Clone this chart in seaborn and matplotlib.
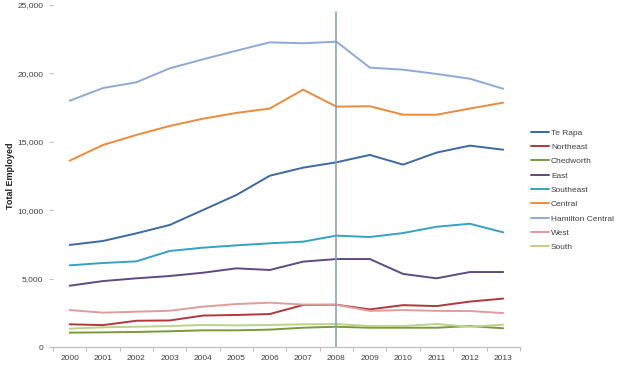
import matplotlib
matplotlib.use("Agg")
import matplotlib.pyplot as plt
import seaborn as sns
import pandas as pd
from matplotlib.ticker import FuncFormatter

years = ["2000", "2001", "2002", "2003", "2004", "2005", "2006",
         "2007", "2008", "2009", "2010", "2011", "2012", "2013"]

te_rapa = [7460, 7750, 8310, 8920, 10015, 11110, 12520, 13110, 13500, 14040, 13330, 14210, 14720, 14420]
northeast = [1660, 1600, 1920, 1940, 2300, 2340, 2410, 3070, 3090, 2750, 3060, 2990, 3320, 3540]
chedworth = [1050, 1070, 1100, 1150, 1220, 1220, 1270, 1410, 1480, 1410, 1410, 1410, 1530, 1370]
east = [4480, 4820, 5020, 5190, 5430, 5750, 5630, 6240, 6430, 6430, 5340, 5020, 5480, 5480]
southeast = [5970, 6140, 6260, 7020, 7260, 7430, 7580, 7700, 8140, 8040, 8330, 8790, 9010, 8380]
central = [13620, 14770, 15500, 16160, 16690, 17110, 17430, 18810, 17570, 17600, 16980, 16980, 17430, 17860]
hamilton_central = [18000, 18930, 19350, 20370, 21030, 21660, 22270, 22200, 22320, 20420, 20270, 19960, 19610, 18880]
west = [2700, 2510, 2580, 2650, 2950, 3140, 3240, 3100, 3090, 2640, 2700, 2640, 2630, 2480]
south = [1340, 1440, 1480, 1530, 1610, 1580, 1610, 1660, 1680, 1530, 1530, 1680, 1480, 1630]

series_names = ["Te Rapa", "Northeast", "Chedworth", "East", "Southeast",
                "Central", "Hamilton Central", "West", "South"]
series_values = [te_rapa, northeast, chedworth, east, southeast,
                 central, hamilton_central, west, south]
colors = ["#3C69A3", "#B0383A", "#7A9A3C", "#5E4A80", "#35A2C2",
          "#EE8A3A", "#8FA9D6", "#E09C9A", "#B9D38A"]

marker_year = "2008"
y_ticks = [0, 5000, 10000, 15000, 20000, 25000]

rows = []
for name, vals in zip(series_names, series_values):
    for i, (yr, v) in enumerate(zip(years, vals)):
        rows.append({"idx": i, "Year": yr, "Area": name, "Employed": v})
df = pd.DataFrame(rows)

sns.set_theme(style="white")
plt.rcParams['font.family'] = ['Liberation Sans', 'DejaVu Sans']

fig = plt.figure(figsize=(6.2, 3.72), dpi=100)
ax = fig.add_axes([0.0855, 0.0672, 0.753, 0.9194])

sns.lineplot(data=df, x="idx", y="Employed", hue="Area", hue_order=series_names,
             palette=colors, linewidth=1.4, ax=ax, legend=True)

ax.axvline(years.index(marker_year), ymin=0, ymax=0.98, color="#7F9CC8", linewidth=1.1)

ax.set_xlim(-0.5, len(years) - 0.5)
ax.set_ylim(0, 25000)
ax.set_xticks(range(len(years)))
ax.set_xticklabels(years)
ax.set_xticks([i + 0.5 for i in range(-1, len(years))], minor=True)
ax.set_yticks(y_ticks)
ax.yaxis.set_major_formatter(FuncFormatter(lambda v, p: f"{int(v):,}"))

for s in ["top", "right", "left"]:
    ax.spines[s].set_visible(False)
ax.spines["bottom"].set_color("#BFBFBF")
ax.spines["bottom"].set_linewidth(0.9)

ax.tick_params(axis="x", which="major", length=0, labelsize=6, colors="#404040", pad=6)
ax.tick_params(axis="x", which="minor", length=3, color="#BFBFBF", width=0.8, bottom=True)
ax.tick_params(axis="y", which="major", length=3, color="#BFBFBF", width=0.8,
               labelsize=6, colors="#404040", left=True, pad=4)

ax.set_xlabel("")
ax.set_ylabel("Total Employed", fontsize=6.5, fontweight="bold", color="#202020")
ax.yaxis.set_label_coords(-0.081, 0.5)

handles, labels = ax.get_legend_handles_labels()
ax.legend(handles, labels, loc="upper left", bbox_to_anchor=(0.851, 0.663),
          bbox_transform=fig.transFigure, frameon=False, fontsize=6,
          handlelength=2.2, handletextpad=0.2, labelspacing=0.78, borderaxespad=0,
          labelcolor="#404040")

fig.savefig("out.png", dpi=100)
